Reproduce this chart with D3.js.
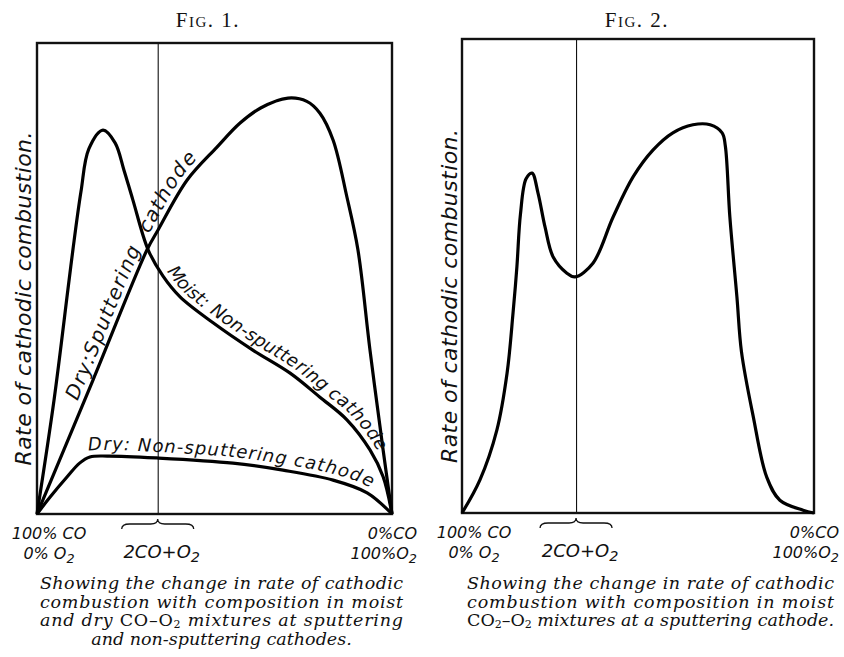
<!DOCTYPE html>
<html>
<head>
<meta charset="utf-8">
<script src="https://cdn.jsdelivr.net/npm/d3@7"></script>
<style>
  body { margin: 0; background: #fff; }
  svg { display: block; }
  .hand { font-family: "DejaVu Sans", sans-serif; font-style: italic; fill: #111; }
  .cap { font-family: "DejaVu Serif", serif; font-style: italic; fill: #111; }
  .roman { font-style: normal; }
  .title { font-family: "Liberation Serif", serif; font-variant: small-caps; fill: #111; }
</style>
</head>
<body>
<svg id="chart" width="844" height="657"></svg>
<script>
// x = % O2 in the gas mixture, y = rate of cathodic combustion (arbitrary units, 0..100)
var fig1MoistNonSputtering = [[0, 0], [4.8, 24.2], [8.7, 47.6], [10.1, 56], [12.4, 68.5], [14.6, 77.5],
  [18.6, 81.5], [22, 78.8], [24.5, 73], [27, 66.7], [31.3, 56.1], [35.5, 50.5], [40.3, 46.1],
  [49.6, 40.6], [60.8, 34.8], [71.3, 29.9], [79.7, 24.8], [87.3, 20], [93.8, 13.6], [97.5, 7.9], [100, 0]];
var fig1DrySputtering = [[0, 0], [15.8, 28.5], [31, 56.1], [34.1, 60.3], [42.3, 70.9], [50.7, 77.9],
  [57.2, 83], [63, 86.2], [70.7, 88.3], [76, 87.6], [79.7, 85.1], [83.4, 79.4], [87.3, 67.3],
  [90.4, 56.1], [93.8, 34.8], [97.5, 13.6], [100, 0]];
var fig1DryNonSputtering = [[0, 0], [3.7, 3.6], [8.5, 7.9], [12, 10.8], [14.9, 12.1], [20, 12.3],
  [33.8, 11.9], [55.2, 10.8], [69.3, 9.3], [83.4, 7.2], [93, 4.5], [100, 0]];
var fig2MoistSputtering = [[0, 0], [5.1, 7], [9.9, 17.5], [12.8, 29.5], [14.5, 42.2], [15.6, 52],
  [16.6, 63], [18.2, 70.5], [19.9, 71.7], [21.6, 67.5], [23.6, 60.3], [25.9, 54], [29.8, 50.6],
  [32.1, 49.8], [37.2, 52.7], [42.9, 62.4], [48.6, 70.9], [54.3, 76.6], [59.9, 80.2], [65.6, 81.9],
  [70.5, 81.9], [73.9, 80.2], [74.8, 77.5], [76.1, 62.4], [78.1, 45.6], [79.4, 34], [82.7, 20.5],
  [86.6, 7.5], [90.3, 2.7], [96.9, 0.6], [100, 0]];

// the 2CO + O2 mixture as drawn in each figure (nominally 33.3 % O2)
var mixtureFig1 = 34;
var mixtureFig2 = 32.4;

var axisTitle = 'Rate of cathodic combustion.';
var leftTick = ['100% CO', '0% O_2'];
var midTick = '2CO+O_2';
var rightTick = ['0%CO', '100%O_2'];

// caption lines: [text, style] pieces, 'i' italic, 'r' roman, 's' roman subscript
var caption1 = [
  [['Showing the change in rate of cathodic', 'i']],
  [['combustion with composition in moist', 'i']],
  [['and dry ', 'i'], ['CO–O', 'r'], ['2', 's'], [' mixtures at sputtering', 'i']],
  [['and non-sputtering cathodes.', 'i']]
];
var caption2 = [
  [['Showing the change in rate of cathodic', 'i']],
  [['combustion with composition in moist', 'i']],
  [['CO', 'r'], ['2', 's'], ['–O', 'r'], ['2', 's'], [' mixtures at a sputtering cathode.', 'i']]
];

var panels = [
  {
    left: 37, right: 392, top: 43, bottom: 514, title: 'Fig. 1.', titleX: 208,
    mixture: mixtureFig1, axisX: 31,
    series: [fig1MoistNonSputtering, fig1DrySputtering, fig1DryNonSputtering],
    curveLabels: [
      { s: 1, text: 'Dry:Sputtering\u00A0\u00A0cathode', from: 13, to: 46.5, dy: -6, size: 20 },
      { s: 0, text: 'Moist: Non-sputtering cathode', from: 35.2, to: 94.6, dy: -6, size: 18 },
      { s: 2, text: 'Dry: Non-sputtering cathode', from: 14.6, to: 93.2, dy: -6, size: 18 }
    ],
    caption: caption1, capLeft: 40, capRight: 403, justify: 3
  },
  {
    left: 462, right: 814, top: 39, bottom: 513, title: 'Fig. 2.', titleX: 637,
    mixture: mixtureFig2, axisX: 457,
    series: [fig2MoistSputtering],
    curveLabels: [],
    caption: caption2, capLeft: 467, capRight: 834, justify: 3
  }
];

var svg = d3.select('#chart');

function lengthAtX(node, px) {
  var lo = 0, hi = node.getTotalLength();
  for (var k = 0; k < 40; k++) {
    var mid = (lo + hi) / 2;
    if (node.getPointAtLength(mid).x < px) lo = mid; else hi = mid;
  }
  return lo;
}

// text with "_2" marking a subscript two
function chemText(sel, str, size) {
  var parts = str.split('_2');
  parts.forEach(function (t, i) {
    if (t) sel.append('tspan').attr('dy', i > 0 ? -4 : 0).text(t);
    if (i < parts.length - 1) {
      sel.append('tspan').attr('dy', 4).style('font-size', (size * 0.8) + 'px').text('2');
    }
  });
}

function brace(cx, yb, hw) {
  var p = d3.path();
  p.moveTo(cx - hw, yb + 5);
  p.quadraticCurveTo(cx - hw, yb, cx - hw + 8, yb);
  p.lineTo(cx - 7, yb);
  p.quadraticCurveTo(cx, yb, cx, yb - 5);
  p.quadraticCurveTo(cx, yb, cx + 7, yb);
  p.lineTo(cx + hw - 8, yb);
  p.quadraticCurveTo(cx + hw, yb, cx + hw, yb + 5);
  return p.toString();
}

panels.forEach(function (p, pi) {
  var x = d3.scaleLinear().domain([0, 100]).range([p.left, p.right]);
  var y = d3.scaleLinear().domain([0, 100]).range([p.bottom, p.top]);
  var g = svg.append('g').attr('class', 'panel panel-' + pi);

  g.append('text')
    .attr('class', 'title')
    .attr('x', p.titleX)
    .attr('y', 27)
    .attr('text-anchor', 'middle')
    .style('font-size', '21px')
    .style('letter-spacing', '1.5px')
    .text(p.title);

  // the 2CO+O2 composition line, drawn as the single tick of a bottom axis
  var axis = d3.axisBottom(x)
    .tickValues([p.mixture])
    .tickSize(-(p.bottom - p.top))
    .tickFormat('');
  var ax = g.append('g')
    .attr('transform', 'translate(0,' + p.bottom + ')')
    .call(axis);
  ax.select('.domain').remove();
  ax.selectAll('.tick line').attr('stroke', '#111').attr('stroke-width', 1.1);

  // frame
  g.append('rect')
    .attr('x', x(0))
    .attr('y', y(100))
    .attr('width', x(100) - x(0))
    .attr('height', y(0) - y(100))
    .attr('fill', 'none')
    .attr('stroke', '#111')
    .attr('stroke-width', 2.4);

  var line = d3.line()
    .x(function (d) { return x(d[0]); })
    .y(function (d) { return y(d[1]); })
    .curve(d3.curveCatmullRom.alpha(0.5));

  var paths = g.selectAll('path.curve')
    .data(p.series)
    .enter()
    .append('path')
    .attr('class', 'curve')
    .attr('id', function (d, i) { return 'curve-' + pi + '-' + i; })
    .attr('d', line)
    .attr('fill', 'none')
    .attr('stroke', '#000')
    .attr('stroke-width', 3.2)
    .attr('stroke-linejoin', 'round');

  p.curveLabels.forEach(function (lab) {
    var node = paths.nodes()[lab.s];
    var a = lengthAtX(node, x(lab.from));
    var b = lengthAtX(node, x(lab.to));
    g.append('text')
      .attr('class', 'hand')
      .style('font-size', lab.size + 'px')
      .attr('dy', lab.dy)
      .append('textPath')
      .attr('href', '#curve-' + pi + '-' + lab.s)
      .attr('startOffset', a)
      .attr('textLength', b - a)
      .attr('lengthAdjust', 'spacing')
      .text(lab.text);
  });

  // vertical axis title
  g.append('text')
    .attr('class', 'hand')
    .attr('transform', 'translate(' + p.axisX + ',' + ((y(0) + y(100)) / 2 + 20) + ') rotate(-90)')
    .attr('text-anchor', 'middle')
    .attr('textLength', 334)
    .attr('lengthAdjust', 'spacing')
    .style('font-size', '22px')
    .text(axisTitle);

  // composition labels under the axis
  var tickSize = 16;
  leftTick.forEach(function (t, i) {
    var tx = g.append('text').attr('class', 'hand')
      .attr('x', x(0) + 12).attr('y', p.bottom + 25 + i * 20)
      .attr('text-anchor', 'middle').style('font-size', tickSize + 'px');
    chemText(tx, t, tickSize);
  });
  rightTick.forEach(function (t, i) {
    var tx = g.append('text').attr('class', 'hand')
      .attr('x', x(100) + 25).attr('y', p.bottom + 25 + i * 20)
      .attr('text-anchor', 'end').style('font-size', tickSize + 'px');
    chemText(tx, t, tickSize);
  });
  var mt = g.append('text').attr('class', 'hand')
    .attr('x', x(p.mixture) + 4).attr('y', p.bottom + 44)
    .attr('text-anchor', 'middle').style('font-size', '18px');
  chemText(mt, midTick, 18);
  g.append('path')
    .attr('d', brace(x(p.mixture), p.bottom + 10, 36))
    .attr('fill', 'none')
    .attr('stroke', '#111')
    .attr('stroke-width', 1.3);

  // caption
  var cx = (p.capLeft + p.capRight) / 2;
  p.caption.forEach(function (pieces, li) {
    var t = g.append('text').attr('class', 'cap')
      .attr('y', 589 + li * 18.7)
      .style('font-size', '17.5px');
    if (li < p.justify) {
      t.attr('x', p.capLeft)
        .attr('textLength', p.capRight - p.capLeft)
        .attr('lengthAdjust', 'spacing');
    } else {
      t.attr('x', cx).attr('text-anchor', 'middle');
    }
    var shifted = false;
    pieces.forEach(function (pc) {
      var sp = t.append('tspan').text(pc[0]);
      if (pc[1] !== 'i') sp.attr('class', 'roman');
      if (pc[1] === 's') {
        sp.attr('dy', 2).style('font-size', '11px');
        shifted = true;
      } else if (shifted) {
        sp.attr('dy', -2);
        shifted = false;
      }
    });
  });
});
</script>
</body>
</html>
